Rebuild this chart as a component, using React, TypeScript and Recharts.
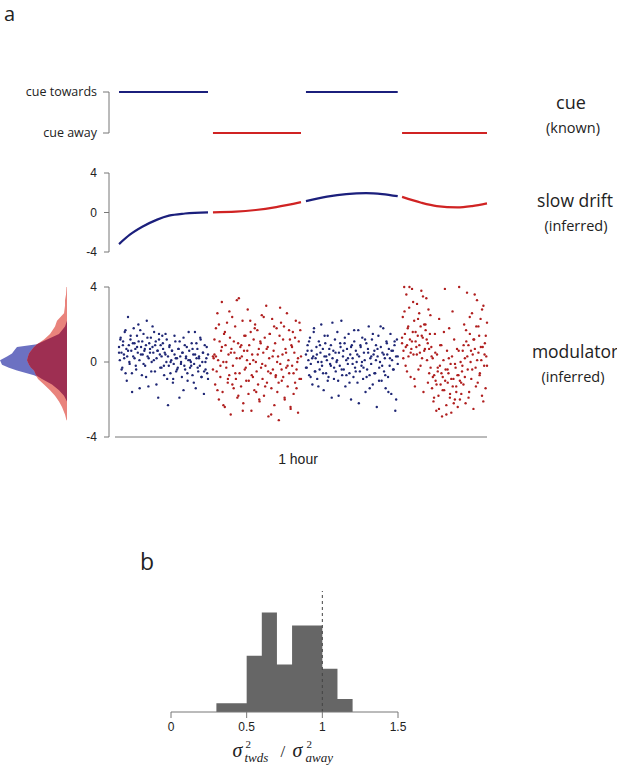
import { ComposedChart, Line, Scatter, Area, XAxis, YAxis, ReferenceLine, Label } from 'recharts'

const NAVY = '#1b1f7c'
const RED = '#d02323'
const DOT_NAVY = '#1f2775'
const DOT_RED = '#b01f1f'

// time in minutes, one block per cue period
const blockStarts = [0.65, 15.8, 30.8, 46.3]
const blockEnds = [15.0, 30.0, 45.6, 60]
const cueLevels = [1, 0, 1, 0]

// slow drift (inferred)
const driftT1 = [0.65, 2.4, 4.4, 6.8, 8.7, 11.3, 15.0]
const driftV1 = [-3.2, -2.25, -1.45, -0.72, -0.32, -0.1, 0.02]
const driftT2 = [15.8, 19.5, 22.7, 26.0, 30.0]
const driftV2 = [0.02, 0.08, 0.25, 0.55, 1.05]
const driftT3 = [30.8, 34.2, 37.3, 40.5, 43.1, 45.6]
const driftV3 = [1.15, 1.6, 1.87, 1.97, 1.87, 1.65]
const driftT4 = [46.3, 49.4, 51.9, 55.2, 57.6, 60]
const driftV4 = [1.58, 0.99, 0.65, 0.51, 0.65, 0.92]

// modulator samples per block, two interleaved sample runs each
const mod1 = [
  0.8, 0.1, 1.3, 0.5, -0.3, 1.1, 0.4, 1.6, -0.6, 0.7,
  0.3, 2.4, 0.9, -0.1, 1.2, 0.6, -1.6, 1.0, 1.8, 0.2,
  0.7, -0.4, 1.4, 0.5, 1.1, 0.1, 1.7, 0.8, -0.7, 0.4,
  1.5, 0.6, -0.2, 0.9, 2.2, 0.3, -1.3, 1.0, 0.7, 1.3,
  0.0, 0.8, 0.5, 1.6, -0.5, 1.1, 0.2, 0.6, -1.9, 1.2,
  0.4, 0.9, -0.3, 1.4, 0.7,
  -0.2, 0.5, 1.5, 0.0, -0.9, 0.3, -0.2, 0.9, -0.6, 0.1,
  0.6, -1.1, -0.1, 0.4, 1.1, -0.5, 0.2, -0.3, 0.7, -1.9,
  0.3, 0.0, -0.8, 0.5, 1.3, -0.2, -0.4, 0.2, 0.8, -1.0,
  0.1, 0.6, -0.3, 0.0, 1.0, -0.7, 0.4, -0.1, 1.6, -1.4,
  0.2, 0.7, -0.5, 0.3, -0.2, 1.2, -0.8, 0.0, 0.5, -1.7,
  0.9, -0.4, 0.2, -0.6, 0.4,
]
const mod1b = [
  0.5, 1.2, -0.4, 0.9, 0.2, 1.7, -1.0, 0.6, 0.0, 1.4,
  -0.6, 0.3, 1.0, -0.2, 0.8, 2.0, -1.4, 0.4, 1.1, -0.1,
  0.7, -0.8, 1.3, 0.2, 0.5, -0.5, 1.9, 0.1, 0.9, -1.2,
  0.6, 1.5, -0.3, 0.3, 1.0, -0.7, 0.4, 1.2, -2.3, 0.8,
  0.0, 0.6, -0.9, 1.4, 0.2, -0.4, 0.7, 1.1, -0.1, 0.5,
  -1.5, 0.9, 0.3, -0.6, 1.6, 0.1, -0.2, 0.7, -1.1, 0.4,
  1.0, -0.3, 0.2, 1.3, -0.8, 0.5, -0.5, 0.0, 0.8, -0.9,
]
const mod2 = [
  0.3, 0.2, 0.4, -1.2, 1.8, -0.5, 2.6, 0.1, -2.0, 1.1,
  -0.8, 0.6, 3.2, -1.6, 0.0, 1.5, -2.4, 0.9, -0.3, 2.1,
  -1.1, 0.4, -0.7, 1.3, -2.8, 0.7, 2.4, -0.2, -1.4, 0.5,
  1.9, -0.9, 0.2, -1.9, 1.0, 3.4, -0.6, 0.8, -1.3, 0.3,
  2.2, -2.2, 0.6, -0.4, 1.4, -1.0, 0.1, 2.8, -1.7, 0.9,
  -0.1, 1.6, -2.6, 0.4, -0.8, 1.2, -1.5, 2.0, 0.0, -0.5,
  1.7, -1.2, 0.7, -2.1, 1.1, -0.3, 2.5, -0.9, 0.5, -1.8,
  1.3, -0.2, 3.0, -1.1, 0.8, -2.9, 0.2, 1.5, -0.6, -1.4,
  2.3, -0.4, 0.6, -2.3, 1.0, -0.7, 1.8, -1.6, 0.3, -3.1,
  1.4, -0.1, 2.1, -1.0, 0.4, -0.8, 1.9, -2.0, 0.7, -0.3,
  2.6, -1.3, 0.1, -0.6, 1.2, -2.5, 0.9, -0.2, 1.6, -1.7,
  0.5, -1.1, 2.2, -0.4, 0.0, -2.7, 1.1, -0.9, 1.7, 0.3,
]
const mod2b = [
  -0.4, 1.2, 0.3, -1.5, 2.0, -0.2, 0.8, -2.3, 1.6, 0.0,
  -0.9, 2.7, 0.5, -1.2, 1.1, -0.6, 3.3, -1.8, 0.2, 0.9,
  -2.6, 1.4, -0.3, 0.6, -1.0, 2.2, -0.7, 0.1, 1.8, -1.6,
  0.4, -2.0, 1.0, -0.1, 2.4, -1.3, 0.7, -0.5, 1.5, -2.8,
  0.3, 1.9, -0.8, 0.0, -1.1, 2.9, -0.4, 1.2, -1.9, 0.5,
  -0.2, 1.7, -2.4, 0.8, -0.6, 1.3, -1.4, 0.2, 2.1, -0.9,
]
const mod3 = [
  0.4, -0.3, 0.9, 0.1, -0.7, 1.3, -0.1, 0.6, -1.2, 0.3,
  1.8, -0.5, 0.2, 0.8, -0.9, 0.0, 1.1, -0.4, 0.5, 2.0,
  -0.2, 0.7, -1.5, 0.3, 1.0, -0.6, 0.1, 1.4, -0.8, 0.4,
  -0.1, 0.9, -1.9, 0.2, 0.6, -0.3, 1.2, -0.5, 0.0, 1.6,
  -1.0, 0.5, -0.2, 0.8, 2.2, -0.7, 0.3, -0.4, 1.0, -1.3,
  0.1, 0.7, -0.1, 1.5, -0.6, 0.4, -2.0, 0.9, 0.2, -0.8,
  1.1, -0.3, 0.6, 0.0, -1.1, 1.7, 0.3, -0.5, 0.8, -0.2,
  1.3, -0.9, 0.5, 0.1, -1.6, 1.0, -0.4, 0.7, 1.9, -0.7,
  0.2, -0.1, 1.2, -1.2, 0.4, 0.6, -0.6, 0.9, -2.4, 0.3,
  1.4, -0.3, 0.0, 0.8, -1.0, 0.5, 1.8, -0.5, 0.2, -1.4,
  1.1, 0.4, -0.8, 0.7, -0.2, 1.5, -1.7, 0.1, 0.6, -0.4,
  0.9, -2.6, 0.3, 1.2, -0.1,
]
const mod3b = [
  -0.3, 0.6, 1.1, -0.8, 0.2, 1.6, -0.5, 0.4, -1.3, 0.9,
  0.0, -0.6, 1.4, 0.3, -1.0, 0.7, -0.2, 2.1, -0.9, 0.5,
  0.1, -1.8, 1.0, -0.4, 0.6, 1.3, -0.7, 0.2, -1.1, 0.8,
  -0.1, 1.7, -0.5, 0.4, -2.2, 0.9, 0.0, -0.3, 1.2, -0.8,
  0.5, -1.4, 0.3, 1.5, -0.6, 0.1, 0.7, -1.0, 1.9, -0.2,
  0.4, -0.7, 1.0, -1.6, 0.2, 0.6, -0.4, 1.1, -2.0, 0.3,
]
const mod4 = [
  1.0, 2.4, 0.6, 4.0, 1.5, -0.2, 3.6, 0.9, 1.8, 0.3,
  2.9, 1.2, -0.8, 0.7, 3.9, 1.6, 0.4, 2.2, -1.3, 1.1,
  0.8, 3.1, 1.4, -0.4, 2.6, 0.5, 1.9, 3.8, 0.2, 1.3,
  -1.6, 2.0, 0.7, 1.7, 3.4, 0.1, 1.0, 2.8, -0.6, 1.5,
  -0.3, 0.8, -1.4, 0.2, -2.1, -0.7, 1.5, -1.0, -2.6, 0.4,
  -0.5, -1.8, 2.3, -0.2, -1.2, 0.9, -2.9, -0.8, 0.1, -1.5,
  3.9, -0.4, -2.3, 0.6, -1.1, -0.6, 1.8, -1.9, -0.1, -2.7,
  0.3, -1.3, -0.9, 1.2, -2.0, -0.3, -1.6, 0.7, -2.4, -0.7,
  4.0, -1.0, 0.0, -1.7, -0.5,
  0.6, -1.2, 2.0, 0.2, -2.2, 1.1, 3.7, -0.4, 0.9, -1.6,
  1.5, 0.0, -0.9, 2.6, 0.4, -2.5, 1.2, 0.7, -0.3, 1.9,
  3.3, -1.1, 0.5, 1.4, -0.6, 2.3, 0.1, -1.8, 0.8, 3.0,
  -0.2, 1.0, -1.4, 0.3, 2.1,
]
const mod4b = [
  1.3, 0.2, 2.7, 0.8, -0.5, 1.9, 4.0, 0.5, 1.1, 3.2,
  -0.9, 1.6, 0.4, 2.3, 0.9, -0.2, 1.4, 3.5, 0.6, 2.0,
  1.2, -1.1, 0.7, 2.5, 0.3,
  -0.8, -1.9, 0.5, -1.2, -0.3, -2.5, 0.9, -0.6, -1.5, 1.6,
  -1.0, -2.8, -0.4, 0.2, -1.7, -0.9, 2.7, -2.2, -0.1, -1.3,
  -0.7, 0.6, -2.0, -1.1, -0.2,
  0.9, -0.8, 1.7, 0.3, -1.9, 2.4, 0.6, -0.4, 1.2, 3.6,
  -1.3, 0.1, 1.9, -0.7, 0.8, 2.8, -2.1, 0.4, 1.4, -0.2,
]

// marginal density of the modulator (left), arbitrary units
const densLevels = [4.0, 3.6, 3.3, 3.0, 2.6, 2.2, 1.9, 1.5, 1.2, 0.95, 0.8, 0.6, 0.45, 0.3, 0.1,
  -0.15, -0.3, -0.45, -0.7, -0.9, -1.2, -1.5, -1.8, -2.1, -2.4, -2.8, -3.1]
const densAway = [0.5, 1, 2, 2, 3, 10, 12, 17, 23, 30, 33, 36, 38, 39, 40,
  38, 36, 33, 31, 29, 23, 17, 12, 8, 5, 2, 0.5]
const densTowards = [0, 0, 0, 0, 0, 0, 2, 8, 20, 30, 50, 53, 55, 60, 67,
  65, 58, 50, 33, 25, 15, 8, 3, 0, 0, 0, 0]

// panel b histogram
const binEdges = [0.3, 0.4, 0.5, 0.6, 0.7, 0.8, 0.9, 1.0, 1.1, 1.2]
const binCounts = [2, 2, 13, 23, 11, 20, 20, 10, 3, 0]
const ratioTicks = [0, 0.5, 1, 1.5]

const zip = (ts: number[], vs: number[]) => ts.map((t, i) => ({ t, v: vs[i] }))
const spread = (vs: number[], k: number) =>
  vs.map((v, i) => ({ t: blockStarts[k] + (i * (blockEnds[k] - blockStarts[k])) / (vs.length - 1), v }))

const cueData = blockStarts.map((s, k) => [
  { t: s, v: cueLevels[k] },
  { t: blockEnds[k], v: cueLevels[k] },
])
const driftData = [zip(driftT1, driftV1), zip(driftT2, driftV2), zip(driftT3, driftV3), zip(driftT4, driftV4)]
const modData = [
  [mod1, mod1b],
  [mod2, mod2b],
  [mod3, mod3b],
  [mod4, mod4b],
].map((runs, k) => runs.flatMap((m) => spread(m, k)))
const densRows = densLevels.map((v, i) => ({
  v,
  towards: densTowards[i],
  away: densAway[i],
  both: Math.min(densTowards[i], densAway[i]),
}))
const histRows = binEdges.map((x, i) => ({ x, n: binCounts[i] }))

const blockColor = (k: number) => (k % 2 === 0 ? NAVY : RED)
const dotColor = (k: number) => (k % 2 === 0 ? DOT_NAVY : DOT_RED)

const axisStroke = '#777'
const numTick = { fontSize: 12, fill: '#222', fontFamily: 'Liberation Sans' }
const TIME_MARGIN = { left: 0, right: 130 }

function RatioLabel(props: any) {
  const vb = props.viewBox
  const cx = vb.x + vb.width / 2
  const base = vb.y + 45
  const serif = { fontFamily: 'Liberation Serif', fill: '#222' }
  return (
    <g>
      <text x={cx - 52} y={base} fontSize={20} fontStyle="italic" {...serif}>σ</text>
      <text x={cx - 39} y={base - 9} fontSize={11} {...serif}>2</text>
      <text x={cx - 40} y={base + 5} fontSize={13} fontStyle="italic" {...serif}>twds</text>
      <text x={cx - 4} y={base} fontSize={17} {...serif}>/</text>
      <text x={cx + 8} y={base} fontSize={20} fontStyle="italic" {...serif}>σ</text>
      <text x={cx + 22} y={base - 9} fontSize={11} {...serif}>2</text>
      <text x={cx + 21} y={base + 5} fontSize={13} fontStyle="italic" {...serif}>away</text>
    </g>
  )
}

function HourLabel(props: any) {
  const vb = props.viewBox
  return (
    <text x={vb.x + vb.width / 2} y={vb.y + 27} textAnchor="middle" fontSize={14} fill="#222" fontFamily="Liberation Sans">
      1 hour
    </text>
  )
}

const sideText = { fontFamily: 'Open Sans', fill: '#222', textAnchor: 'middle' as const }

export default function App() {
  return (
    <div style={{ position: 'relative', width: 617, height: 774, background: '#fff', overflow: 'hidden' }}>
      <style>{'body{margin:0}'}</style>

      {/* cue (known) */}
      <div style={{ position: 'absolute', left: 0, top: 60 }}>
        <ComposedChart width={617} height={90} margin={{ top: 32, bottom: 17, ...TIME_MARGIN }}>
          <XAxis type="number" dataKey="t" domain={[0, 60]} padding={{ left: 6, right: 0 }} hide />
          <YAxis
            type="number"
            dataKey="v"
            domain={[0, 1]}
            ticks={[0, 1]}
            width={109}
            tickSize={6}
            tickMargin={6}
            stroke={axisStroke}
            tick={{ fontSize: 12.5, fill: '#222', fontFamily: 'Open Sans' }}
            tickFormatter={(v) => (v === 1 ? 'cue towards' : 'cue away')}
          />
          {cueData.map((d, k) => (
            <Line key={k} data={d} dataKey="v" stroke={blockColor(k)} strokeWidth={2.2} dot={false} isAnimationActive={false} />
          ))}
        </ComposedChart>
      </div>

      {/* slow drift (inferred) */}
      <div style={{ position: 'absolute', left: 0, top: 160 }}>
        <ComposedChart width={617} height={100} margin={{ top: 13, bottom: 8, ...TIME_MARGIN }}>
          <XAxis type="number" dataKey="t" domain={[0, 60]} padding={{ left: 6, right: 0 }} hide />
          <YAxis
            type="number"
            dataKey="v"
            domain={[-4, 4]}
            ticks={[-4, 0, 4]}
            width={109}
            tickSize={5}
            tickMargin={7}
            stroke={axisStroke}
            tick={numTick}
          />
          {driftData.map((d, k) => (
            <Line key={k} data={d} dataKey="v" type="monotone" stroke={blockColor(k)} strokeWidth={2.2} dot={false} isAnimationActive={false} />
          ))}
        </ComposedChart>
      </div>

      {/* modulator (inferred) */}
      <div style={{ position: 'absolute', left: 0, top: 275 }}>
        <ComposedChart width={617} height={200} margin={{ top: 12, bottom: 0, ...TIME_MARGIN }}>
          <XAxis
            type="number"
            dataKey="t"
            domain={[0, 60]}
            ticks={[0, 60]}
            padding={{ left: 6, right: 0 }}
            height={38}
            axisLine={false}
            tickSize={6}
            tick={false}
            stroke={axisStroke}
          >
            <Label content={HourLabel} />
          </XAxis>
          <YAxis
            type="number"
            dataKey="v"
            domain={[-4, 4]}
            ticks={[-4, 0, 4]}
            width={109}
            tickSize={5}
            tickMargin={7}
            stroke={axisStroke}
            tick={numTick}
          />
          <ReferenceLine segment={[{ x: 0, y: -4 }, { x: 60, y: -4 }]} stroke={axisStroke} />
          {modData.map((d, k) => (
            <Scatter
              key={k}
              data={d}
              dataKey="v"
              isAnimationActive={false}
              shape={(p: any) => <circle cx={p.cx} cy={p.cy} r={1.2} fill={dotColor(k)} />}
            />
          ))}
        </ComposedChart>
      </div>

      {/* marginal densities */}
      <div style={{ position: 'absolute', left: 0, top: 275 }}>
        <ComposedChart layout="vertical" width={67} height={200} data={densRows} margin={{ top: 12, bottom: 38, left: 0, right: 0 }}>
          <XAxis type="number" domain={[0, 67]} reversed hide />
          <YAxis type="number" dataKey="v" domain={[-4, 4]} reversed hide />
          <Area dataKey="towards" type="linear" stroke="none" fill="#6c71c2" fillOpacity={1} isAnimationActive={false} />
          <Area dataKey="away" type="linear" stroke="none" fill="#e9837c" fillOpacity={1} isAnimationActive={false} />
          <Area dataKey="both" type="linear" stroke="none" fill="#9e2f52" fillOpacity={1} isAnimationActive={false} />
        </ComposedChart>
      </div>

      {/* panel b */}
      <div style={{ position: 'absolute', left: 0, top: 560 }}>
        <ComposedChart width={617} height={214} data={histRows} margin={{ top: 31, bottom: 0, left: 171, right: 219 }}>
          <XAxis
            type="number"
            dataKey="x"
            domain={[0, 1.5]}
            ticks={ratioTicks}
            height={62}
            tickSize={6}
            tickMargin={4}
            stroke={axisStroke}
            tick={numTick}
          >
            <Label content={RatioLabel} />
          </XAxis>
          <YAxis type="number" domain={[0, 28]} hide />
          <Area dataKey="n" type="stepAfter" stroke="none" fill="#666" fillOpacity={1} isAnimationActive={false} />
          <ReferenceLine x={1} stroke="#444" strokeDasharray="3 3" />
        </ComposedChart>
      </div>

      <svg width={617} height={774} style={{ position: 'absolute', left: 0, top: 0, pointerEvents: 'none' }}>
        <text x={4} y={21} fontSize={20} fontFamily="Open Sans" fill="#222">a</text>
        <text x={140} y={570} fontSize={23} fontFamily="Open Sans" fill="#222">b</text>
        <text x={571} y={109} fontSize={18} {...sideText}>cue</text>
        <text x={573} y={133} fontSize={14.5} {...sideText}>(known)</text>
        <text x={575} y={207} fontSize={17.5} {...sideText}>slow drift</text>
        <text x={576} y={231} fontSize={14.5} {...sideText}>(inferred)</text>
        <text x={575} y={358} fontSize={17.5} {...sideText}>modulator</text>
        <text x={573} y={382} fontSize={14.5} {...sideText}>(inferred)</text>
      </svg>
    </div>
  )
}
